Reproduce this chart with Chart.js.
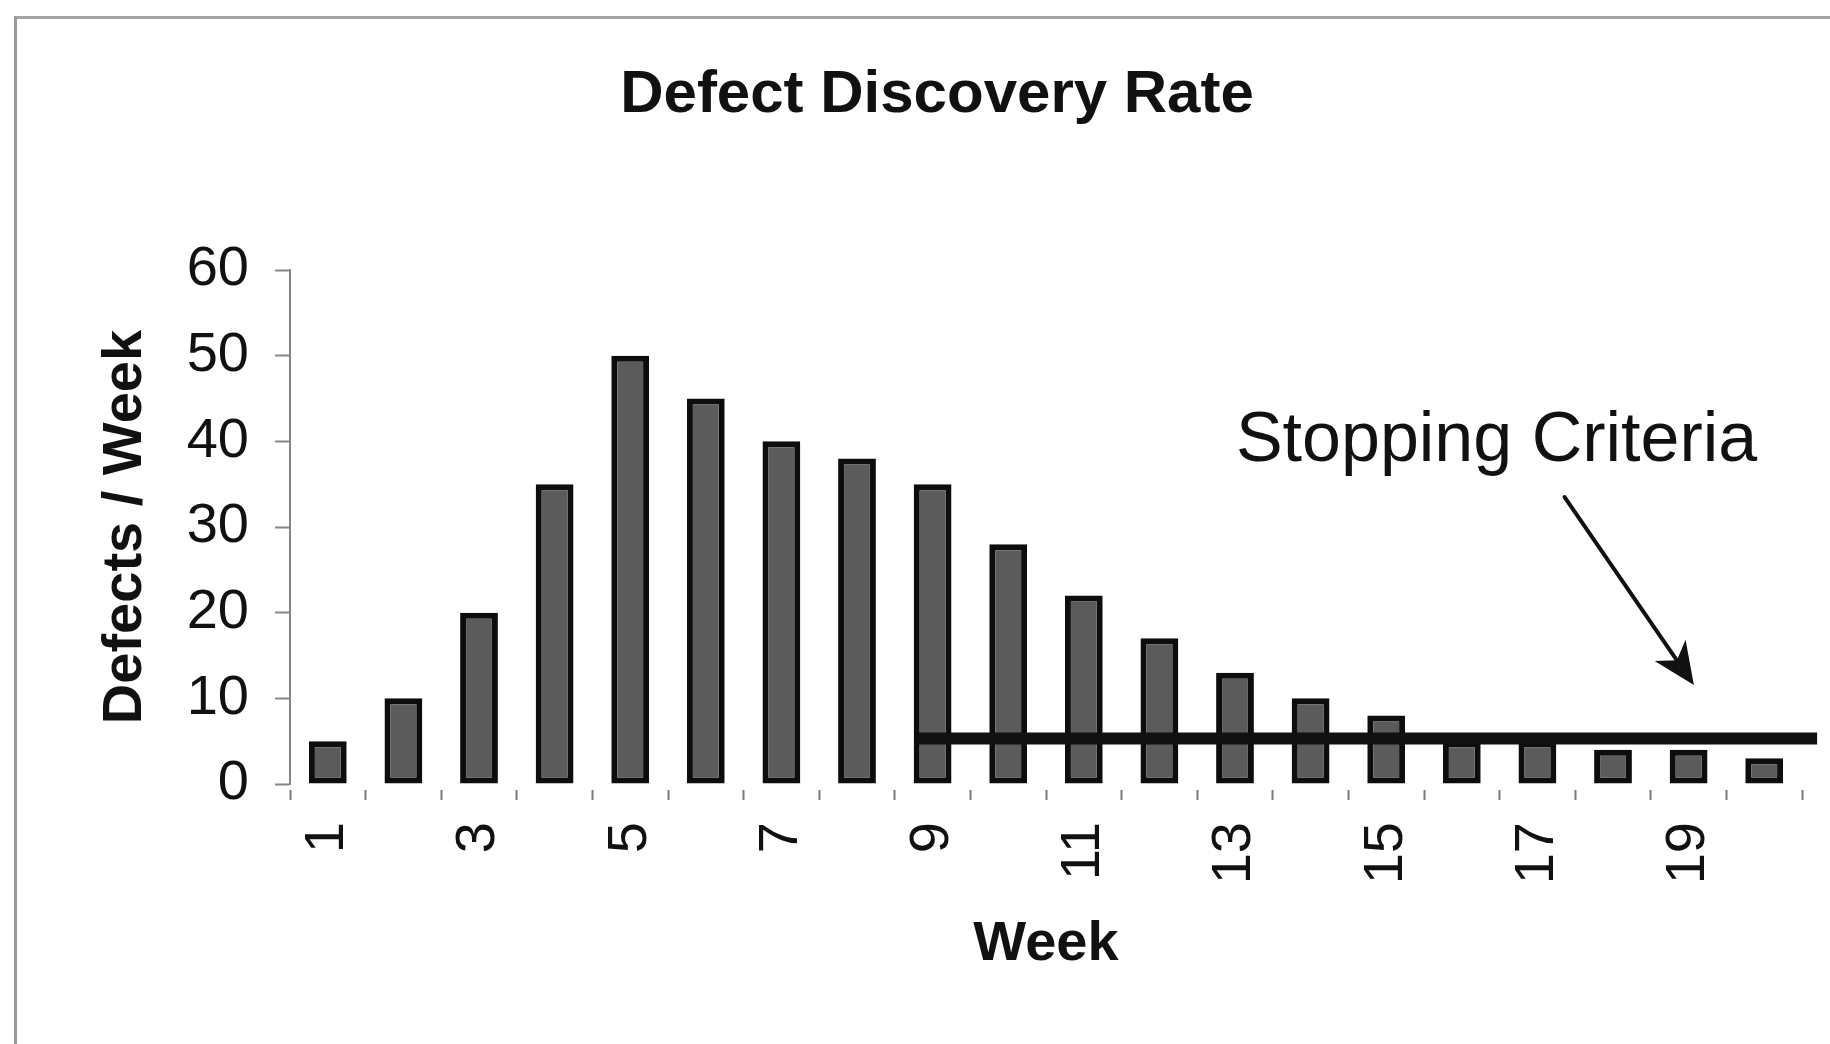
<!DOCTYPE html>
<html>
<head>
<meta charset="utf-8">
<title>Defect Discovery Rate</title>
<script src="https://cdn.jsdelivr.net/npm/chart.js@4.4.0/dist/chart.umd.min.js"></script>
<style>
  html, body { margin: 0; padding: 0; background: #ffffff; }
  #wrap { position: relative; width: 1830px; height: 1044px; overflow: hidden; }
  #frame {
    position: absolute; left: 14px; top: 16px; right: -20px; bottom: -20px;
    border-left: 3px solid #9a9a9a; border-top: 3px solid #a4a4a4;
    pointer-events: none;
  }
  canvas { display: block; }
</style>
</head>
<body>
<div id="wrap">
  <canvas id="chart" width="1830" height="1044"></canvas>
  <div id="frame"></div>
</div>
<script>
// Weekly defect counts
const weeks = ['1','2','3','4','5','6','7','8','9','10','11','12','13','14','15','16','17','18','19','20'];
const weekTickLabels = ['1','','3','','5','','7','','9','','11','','13','','15','','17','','19',''];
const defectsPerWeek = [5, 10, 20, 35, 50, 45, 40, 38, 35, 28, 22, 17, 13, 10, 8, 5, 5, 4, 4, 3];

// Stopping criteria threshold, from week ~9 to the end of the period
const stopWeeks = [8.82, 20.7];
const stopLevel = [5.3, 5.3];

const yTicks = [0, 10, 20, 30, 40, 50, 60];

const FONT = "'Liberation Sans', Arial, Helvetica, sans-serif";
const INK = '#111111';

// Callout text and arrow, placed in axis units
const callout = {
  text: 'Stopping Criteria',
  textAt: { x: 16.46, y: 37.7 },
  arrowFrom: { x: 17.36, y: 33.5 },
  arrowTo: { x: 19.07, y: 11.55 }
};

const calloutPlugin = {
  id: 'callout',
  afterDatasetsDraw(chart) {
    const ctx = chart.ctx;
    const xs = chart.scales.xl;
    const ys = chart.scales.y;
    ctx.save();
    ctx.fillStyle = INK;
    ctx.strokeStyle = INK;
    ctx.font = 'normal 70px ' + FONT;
    ctx.textAlign = 'center';
    ctx.textBaseline = 'alphabetic';
    ctx.fillText(callout.text, xs.getPixelForValue(callout.textAt.x), ys.getPixelForValue(callout.textAt.y));

    const x1 = xs.getPixelForValue(callout.arrowFrom.x), y1 = ys.getPixelForValue(callout.arrowFrom.y);
    const x2 = xs.getPixelForValue(callout.arrowTo.x), y2 = ys.getPixelForValue(callout.arrowTo.y);
    const ang = Math.atan2(y2 - y1, x2 - x1);
    const headLen = 46, headHalf = 0.42, notch = 30;
    ctx.lineWidth = 4;
    ctx.lineCap = 'round';
    ctx.beginPath();
    ctx.moveTo(x1, y1);
    ctx.lineTo(x2 - Math.cos(ang) * notch, y2 - Math.sin(ang) * notch);
    ctx.stroke();
    ctx.beginPath();
    ctx.moveTo(x2, y2);
    ctx.lineTo(x2 - headLen * Math.cos(ang - headHalf), y2 - headLen * Math.sin(ang - headHalf));
    ctx.lineTo(x2 - notch * Math.cos(ang), y2 - notch * Math.sin(ang));
    ctx.lineTo(x2 - headLen * Math.cos(ang + headHalf), y2 - headLen * Math.sin(ang + headHalf));
    ctx.closePath();
    ctx.fill();
    ctx.restore();
  }
};

new Chart(document.getElementById('chart'), {
  type: 'bar',
  data: {
    labels: weeks,
    datasets: [
      {
        type: 'line',
        label: 'Stopping Criteria',
        xAxisID: 'xl',
        data: stopWeeks.map((w, i) => ({ x: w, y: stopLevel[i] })),
        borderColor: INK,
        borderWidth: 12,
        pointRadius: [0, 8],
        pointBackgroundColor: INK,
        pointBorderWidth: 0,
        clip: false,
        order: 0
      },
      {
        type: 'bar',
        label: 'Defects / Week',
        data: defectsPerWeek,
        backgroundColor: '#5b5b5b',
        borderColor: '#0d0d0d',
        borderWidth: 6,
        borderSkipped: false,
        grouped: false,
        barPercentage: 0.5,
        categoryPercentage: 1,
        order: 1
      }
    ]
  },
  options: {
    responsive: false,
    devicePixelRatio: 1,
    animation: false,
    layout: { padding: { left: 72, right: 28, top: 0, bottom: 0 } },
    plugins: {
      legend: { display: false },
      tooltip: { enabled: false },
      title: {
        display: true,
        text: 'Defect Discovery Rate',
        color: INK,
        font: { family: FONT, size: 60, weight: 'bold', lineHeight: 1.2 },
        padding: { top: 59, bottom: 139 }
      }
    },
    scales: {
      x: {
        type: 'category',
        position: 'bottom',
        offset: true,
        grid: {
          offset: true,
          drawOnChartArea: false,
          color: '#7a7a7a',
          tickLength: 16,
          tickWidth: 2,
          tickBorderDash: [0, 6, 10, 40]
        },
        border: { display: false },
        ticks: {
          autoSkip: false,
          minRotation: 90,
          maxRotation: 90,
          padding: 22,
          color: INK,
          font: { family: FONT, size: 56 },
          callback: (v, i) => weekTickLabels[i]
        },
        title: {
          display: true,
          text: 'Week',
          color: INK,
          font: { family: FONT, size: 56, weight: 'bold', lineHeight: 1.2 },
          padding: { top: 0, bottom: 66 }
        },
        afterFit: (s) => { s.height = 260; s.paddingLeft = 0; s.paddingRight = 0; }
      },
      xl: {
        type: 'linear',
        display: false,
        min: 0.5,
        max: 20.5,
        offset: false
      },
      y: {
        min: 0,
        max: 60,
        afterBuildTicks: (s) => { s.ticks = yTicks.map(v => ({ value: v })); },
        ticks: {
          padding: 26,
          color: INK,
          font: { family: FONT, size: 56 }
        },
        grid: {
          drawOnChartArea: false,
          color: '#858585',
          tickLength: 15,
          tickWidth: 2
        },
        border: { color: '#858585', width: 2 },
        title: {
          display: true,
          text: 'Defects / Week',
          color: INK,
          font: { family: FONT, size: 56, weight: 'bold', lineHeight: 1 },
          padding: { top: 26, bottom: 0 }
        },
        afterFit: (s) => { s.width = 218; }
      }
    }
  },
  plugins: [calloutPlugin]
});
</script>
</body>
</html>
